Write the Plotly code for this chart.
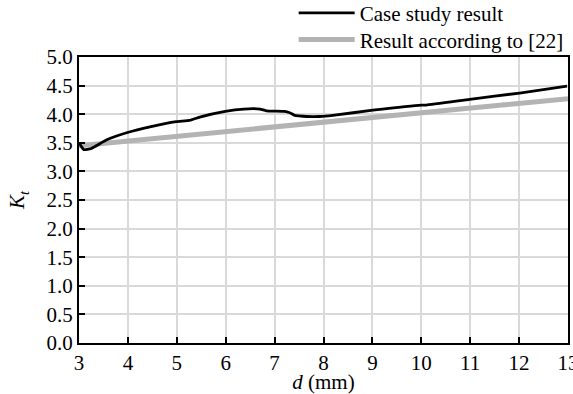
import plotly.graph_objects as go

# Case study result (black)
d_case = [3.00, 3.10, 3.25, 3.56, 3.99, 4.45, 4.99, 5.26, 5.47, 5.99, 6.37, 6.70, 6.83, 7.20,
          7.30, 7.41, 7.50, 7.65, 7.92, 8.19, 9.01, 10.00, 10.10, 10.99, 12.01, 12.98]
kt_case = [3.50, 3.38, 3.40, 3.55, 3.68, 3.78, 3.87, 3.89, 3.95, 4.05, 4.09, 4.09, 4.06, 4.05,
           4.03, 3.98, 3.97, 3.96, 3.96, 3.98, 4.07, 4.16, 4.16, 4.26, 4.37, 4.49]

# Result according to [22] (gray)
d_ref = [3, 4, 5, 6, 7, 8, 9, 10, 11, 12, 13]
kt_ref = [3.45, 3.53, 3.61, 3.69, 3.77, 3.86, 3.94, 4.02, 4.10, 4.18, 4.27]

x_ticks = [3, 4, 5, 6, 7, 8, 9, 10, 11, 12, 13]
y_ticks = [0.0, 0.5, 1.0, 1.5, 2.0, 2.5, 3.0, 3.5, 4.0, 4.5, 5.0]

FONT = "Liberation Serif"

fig = go.Figure()
fig.add_trace(go.Scatter(x=d_ref, y=kt_ref, mode="lines", name="Result according to [22]",
                         line=dict(color="#b3b3b3", width=5), legend="legend2"))
fig.add_trace(go.Scatter(x=d_case, y=kt_case, mode="lines", name="Case study result",
                         line=dict(color="black", width=2.8, shape="spline", smoothing=0.4),
                         legend="legend"))

axis_common = dict(showline=True, linecolor="black", linewidth=2, mirror=True,
                   ticks="inside", ticklen=6, tickwidth=2, tickcolor="black",
                   showgrid=True, gridcolor="#d9d9d9", gridwidth=1.5, zeroline=False,
                   ticklabeloverflow="allow", automargin=False,
                   tickfont=dict(family=FONT, size=21, color="black"))

fig.update_xaxes(range=[3, 13], tickvals=x_ticks, ticktext=[str(v) for v in x_ticks],
                 title=dict(text="<i>d</i> (mm)", font=dict(family=FONT, size=21, color="black"),
                            standoff=3),
                 **axis_common)
fig.update_yaxes(range=[0, 5], tickvals=y_ticks, ticktext=[f"{v:.1f}" for v in y_ticks],
                 title=dict(text="<i>K</i><sub><i>t</i></sub>",
                            font=dict(family=FONT, size=21, color="black"), standoff=16),
                 **axis_common)

leg_common = dict(xanchor="left", yanchor="middle", bgcolor="rgba(0,0,0,0)",
                  font=dict(family=FONT, size=21, color="black"), itemwidth=56)

fig.update_layout(
    width=573, height=394,
    margin=dict(l=79, r=5, t=57, b=51, autoexpand=False),
    paper_bgcolor="white", plot_bgcolor="white",
    font=dict(family=FONT, size=21, color="black"),
    legend=dict(x=0.439, y=1.153, **leg_common),
    legend2=dict(x=0.439, y=1.06, **leg_common),
    showlegend=True,
)

fig.write_html("out.html")
